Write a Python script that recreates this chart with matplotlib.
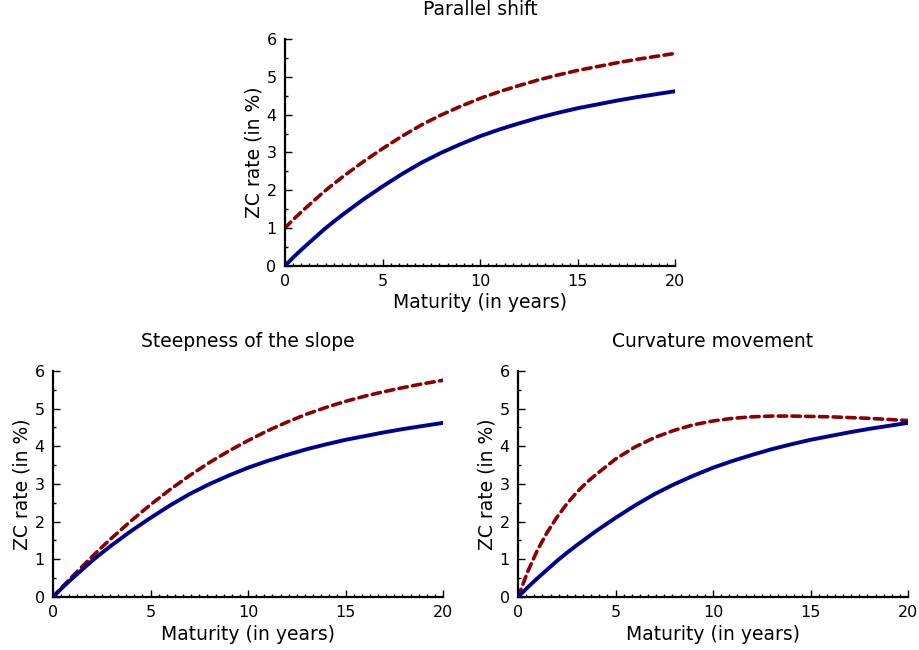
import matplotlib
matplotlib.use("Agg")
import matplotlib.pyplot as plt
from matplotlib.ticker import MultipleLocator

# maturities (years) shared by all curves
maturity = [0, 0.5, 1, 1.5, 2, 2.5, 3, 3.5, 4, 5, 6, 7, 8, 9, 10,
            11, 12, 13, 14, 15, 16, 17, 18, 19, 20]

# initial ZC curve (solid, same in all panels)
base_curve = [0.00, 0.26, 0.50, 0.73, 0.96, 1.17, 1.37, 1.56, 1.75, 2.10,
              2.43, 2.73, 2.99, 3.22, 3.43, 3.61, 3.77, 3.92, 4.05, 4.17,
              4.27, 4.37, 4.46, 4.54, 4.62]

# shocked curves (dashed)
parallel_curve = [1.00, 1.26, 1.50, 1.73, 1.96, 2.17, 2.37, 2.56, 2.75, 3.10,
                  3.43, 3.73, 3.99, 4.22, 4.43, 4.61, 4.77, 4.92, 5.05, 5.17,
                  5.27, 5.37, 5.46, 5.54, 5.62]
slope_curve = [0.00, 0.28, 0.55, 0.81, 1.07, 1.32, 1.56, 1.79, 2.02, 2.45,
               2.85, 3.22, 3.56, 3.87, 4.15, 4.41, 4.64, 4.85, 5.03, 5.19,
               5.33, 5.45, 5.56, 5.66, 5.75]
curvature_curve = [0.00, 0.68, 1.25, 1.72, 2.12, 2.47, 2.77, 3.03, 3.25, 3.66,
                   3.98, 4.23, 4.42, 4.57, 4.67, 4.74, 4.78, 4.80, 4.80, 4.79,
                   4.78, 4.76, 4.74, 4.71, 4.68]

titles = ["Parallel shift", "Steepness of the slope", "Curvature movement"]
shocked = [parallel_curve, slope_curve, curvature_curve]

plt.rcParams['font.family'] = ['DejaVu Sans']

fig = plt.figure(figsize=(9.19, 6.5), dpi=100)
positions = [[0.310, 0.591, 0.425, 0.349],
             [0.0577, 0.0815, 0.4244, 0.348],
             [0.5637, 0.0815, 0.4244, 0.348]]

for pos, title, curve in zip(positions, titles, shocked):
    ax = fig.add_axes(pos)
    ax.plot(maturity, base_curve, color='#000090', lw=2.8,
            solid_capstyle='round', solid_joinstyle='round', zorder=3)
    ax.plot(maturity, curve, color='#8b0000', lw=2.6, ls=(0, (2.3, 1.5)),
            dash_capstyle='round', zorder=2)
    ax.set_xlim(0, 20)
    ax.set_ylim(0, 6)
    ax.spines['top'].set_visible(False)
    ax.spines['right'].set_visible(False)
    ax.spines['left'].set_linewidth(1.6)
    ax.spines['bottom'].set_linewidth(1.6)
    ax.xaxis.set_major_locator(MultipleLocator(5))
    ax.xaxis.set_minor_locator(MultipleLocator(5 / 12))
    ax.yaxis.set_major_locator(MultipleLocator(1))
    ax.yaxis.set_minor_locator(MultipleLocator(0.5))
    ax.tick_params(which='both', direction='in', top=False, right=False,
                   labelsize=11.5, width=1)
    ax.tick_params(which='major', length=5, pad=6)
    ax.tick_params(which='minor', length=2.5)
    ax.set_title(title, fontsize=13.5, pad=17)
    ax.set_xlabel("Maturity (in years)", fontsize=13.5, labelpad=3)
    ax.set_ylabel("ZC rate (in %)", fontsize=13.5, labelpad=2)

fig.savefig("out.png", dpi=100)
